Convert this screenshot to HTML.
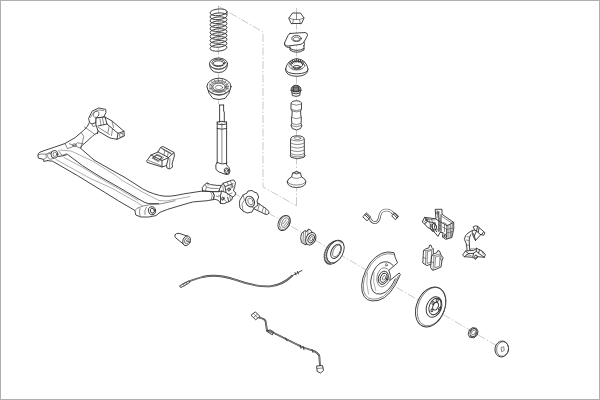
<!DOCTYPE html>
<html><head><meta charset="utf-8"><title>Rear axle exploded view</title>
<style>
html,body{margin:0;padding:0;background:#fff;}
body{width:600px;height:400px;overflow:hidden;font-family:"Liberation Sans",sans-serif;}
#frame{position:absolute;left:0;top:0;width:598px;height:398px;border:1px solid #b0b0b0;}
svg{position:absolute;left:0;top:0;display:block}
.l{fill:none;stroke:#303030;stroke-width:.9;stroke-linecap:round;stroke-linejoin:round}
.t{fill:none;stroke:#4c4c4c;stroke-width:.65;stroke-linecap:round;stroke-linejoin:round}
.c2{fill:none;stroke:#383838;stroke-width:1.8;stroke-linecap:butt;stroke-linejoin:round}
.c3{fill:none;stroke:#fff;stroke-width:.4;stroke-linecap:butt;stroke-linejoin:round}
.c4{fill:none;stroke:#444;stroke-width:2.6;stroke-linecap:butt;stroke-linejoin:round}
.c5{fill:none;stroke:#fff;stroke-width:1.3;stroke-linecap:butt;stroke-linejoin:round}
.wf{fill:#fff}
.u{fill:none;stroke:#787878;stroke-width:.6;stroke-linecap:round;stroke-linejoin:round}
.s{fill:none;stroke:#3c3c3c;stroke-width:.95}
.d{fill:none;stroke:#a4a4a4;stroke-width:.6;stroke-dasharray:8 2 1.5 2}
</style></head><body>
<div id="frame"></div>
<svg width="600" height="400" viewBox="0 0 600 400">
<!-- guide lines -->
<path class="d" d="M218 6 L263 32 L263 187 L297 206"/>
<path class="d" d="M218.5 6 L218.5 104"/>
<path class="d" d="M296.5 8 L296.5 206"/>
<path class="d" d="M233 192.5 L505 350.5"/>
<!-- spring -->
<ellipse class="s" cx="218.5" cy="12.3" rx="8.5" ry="3.3" transform="rotate(-5 218.5 12.3)"/>
<ellipse class="s" cx="218.5" cy="16.25" rx="8.5" ry="3.3" transform="rotate(-5 218.5 16.25)"/>
<ellipse class="s" cx="218.5" cy="20.2" rx="8.5" ry="3.3" transform="rotate(-5 218.5 20.2)"/>
<ellipse class="s" cx="218.5" cy="24.15" rx="8.5" ry="3.3" transform="rotate(-5 218.5 24.15)"/>
<ellipse class="s" cx="218.5" cy="28.1" rx="8.5" ry="3.3" transform="rotate(-5 218.5 28.1)"/>
<ellipse class="s" cx="218.5" cy="32.05" rx="8.5" ry="3.3" transform="rotate(-5 218.5 32.05)"/>
<ellipse class="s" cx="218.5" cy="36.0" rx="8.5" ry="3.3" transform="rotate(-5 218.5 36.0)"/>
<ellipse class="s" cx="218.5" cy="39.95" rx="8.5" ry="3.3" transform="rotate(-5 218.5 39.95)"/>
<ellipse class="s" cx="218.5" cy="43.9" rx="8.5" ry="3.3" transform="rotate(-5 218.5 43.9)"/>
<ellipse class="s" cx="218.5" cy="47.85" rx="8.5" ry="3.3" transform="rotate(-5 218.5 47.85)"/>
<path class="l" d="M227.0 12.0 L227.0 14.5"/>
<!-- ring1 -->
<path class="l wf" d="M209.5 63.5 Q209.5 72.5 218.5 72.5 Q227.5 72.5 227.5 63.5"/>
<ellipse class="l wf" cx="218.5" cy="63.5" rx="9" ry="5.5"/>
<ellipse class="l" cx="218.5" cy="62.8" rx="6.6" ry="3.6"/>
<ellipse class="l" cx="218.5" cy="63.3" rx="5" ry="2.5"/>
<path class="t" d="M210.5 66.5 Q218.5 73 226.5 66.5"/>
<!-- ring2 -->
<path class="l wf" d="M207 86.5 Q208 94 213 98.5 Q219 100.5 225 98.5 Q230 94 231 86.5"/>
<ellipse class="l wf" cx="219" cy="86.5" rx="12" ry="8.3"/>
<ellipse class="t" cx="219" cy="86.5" rx="9.3" ry="6"/>
<ellipse class="l" cx="219" cy="87" rx="6.3" ry="4"/>
<ellipse class="t" cx="219" cy="87.5" rx="3.6" ry="2.2"/>
<path class="t" d="M208.5 90.5 Q219 101 229.5 90.5"/>
<path class="t" d="M209.5 84 L212 85.5 M211 81.5 L213.5 83.3 M214 79.8 L215.8 82 M218 79 L218.5 81.5 M222.5 79.3 L222 81.8 M226 81 L224.5 83 M228.3 83.5 L226 85 M209.3 89 L212 88.5 M228.8 89 L226 88.5 M212 92.5 L214 91 M226 92.5 L224 91"/>
<ellipse class="t" cx="219" cy="86.8" rx="7.8" ry="5"/>
<!-- shock -->
<path class="l" d="M219.6 105 L219.6 122 M223.6 105 L223.6 111 L224.3 112 L224.3 122 M219.6 105 L223.6 105"/>
<path class="l" d="M217.2 122 L217.2 163 M226.6 122 L226.6 163 M217.2 122 Q222 120.5 226.6 122 M217.2 128.5 Q222 130 226.6 128.5 M217.2 124 Q222 125.5 226.6 124"/>
<path class="t" d="M221.9 123 L221.9 163"/>
<path class="l" d="M217.2 162.5 L215.8 165 L216 169.5 L219 172 L226 174.5 L229 174 L230 171 L229 167.5 L226.6 165 L226.6 162.5 M217.2 162.5 Q222 165 226.6 163.5"/>
<ellipse class="l" cx="226.6" cy="170.8" rx="2.3" ry="2.9" transform="rotate(-15 226.6 170.8)"/>
<ellipse class="t" cx="226.6" cy="170.8" rx="1.1" ry="1.5" transform="rotate(-15 226.6 170.8)"/>
<!-- nut -->
<path class="l wf" d="M289 18 L292.5 13 L300.5 13 L304 18 L301.5 23.5 L291.5 23.5 Z"/>
<path class="t" d="M289 18 L293.5 19.5 L299.5 19.5 L304 18 M293.5 19.5 L292.5 24 M299.5 19.5 L300.5 24 M296.5 13.5 L296.5 19.5"/>
<!-- mount plate -->
<path class="l wf" d="M290 33.5 L305 32.5 Q308 33 307.5 35.5 L304 42 Q303 44 300 44.5 L288 46 Q284 46 284.5 43 L288 35.5 Q289 33.8 290 33.5 Z"/>
<path class="l" d="M284.5 43 L285 45.5 Q286 47.5 288.5 47.5 L290 47.3 M304 42 L304.5 44.5 L303.5 46"/>
<ellipse class="l" cx="296.5" cy="38.5" rx="4.6" ry="2.9"/>
<ellipse class="t" cx="296.5" cy="39" rx="3.2" ry="1.9"/>
<path class="l" d="M290 47 L290 50 Q296.5 54.5 304 50 L304 45.5 M290 48.5 Q296.5 52.5 304 48.5"/>
<!-- dome -->
<path class="l wf" d="M285.6 69 Q285 76 296.8 76.3 Q308.5 76 308 69"/>
<path class="l wf" d="M285.6 69 Q287 60 296.8 58.5 Q306.5 60 308 69 Q308 73.5 296.8 73.8 Q285.6 73.5 285.6 69 Z"/>
<ellipse class="t" cx="296.8" cy="65.5" rx="8" ry="4.6"/>
<ellipse class="l" cx="296.8" cy="64.5" rx="6" ry="3.4"/>
<ellipse class="l" cx="296.8" cy="67.2" rx="3.6" ry="1.7"/>
<path class="l" d="M289 62.5 L291.5 65 M290.5 61.3 L293 64 M292.3 60.3 L294.3 63 M294.3 59.7 L295.8 62.3 M296.5 59.3 L297 62 M298.6 59.5 L298.5 62.2 M300.6 60 L300 62.6 M302.5 60.8 L301.5 63.3 M304.2 62 L302.8 64.3"/>
<path class="t" d="M291 68 Q296.8 71.5 302.6 68"/>
<!-- small cap -->
<path class="l wf" d="M291 90.5 Q291 85.5 296 85.2 Q301 85.5 301 90.5 L300.2 92 L299.8 95.5 Q296 97.2 292.3 95.5 L291.8 92 Z"/>
<path class="l" d="M291 90.5 Q296 93 301 90.5 M293.5 86.5 L293.5 91.8 M296 85.5 L296 92 M298.5 86.5 L298.5 91.8 M292.3 93 Q296 95 299.8 93 M292.2 87.5 L292.2 91.2 M294.8 85.8 L294.8 92 M297.2 85.8 L297.2 92 M299.8 87.5 L299.8 91.2"/>
<ellipse class="t" cx="296" cy="86.6" rx="2.6" ry="1.1"/>
<!-- bump stop -->
<path class="l wf" d="M291 104 Q291 100.8 296.3 100.8 Q301.6 100.8 301.6 104 L301.4 109.5 L300.6 111 L300.8 116 L301.4 117.5 L301 123.5 L301.8 125.5 L300.6 128.5 Q296.5 131.5 292.4 128.5 L291 125.5 L291.8 123.5 L291.4 117.5 L292 116 L292.2 111 L291.2 109.5 Z"/>
<path class="t" d="M291 104 Q296.3 106.5 301.6 104 M291.2 109.5 Q296.3 112 301.4 109.5 M292.2 111 Q296.3 113 300.6 111 M291.4 117.5 Q296.3 120 301.4 117.5 M291.8 123.5 Q296.3 126 301 123.5 M291 125.5 Q296.3 128.3 301.8 125.5"/>
<!-- boot -->
<path class="l wf" d="M290.5 139.5 Q290.5 135.8 297.3 135.8 Q304.3 135.8 304.3 139.5 L304.3 154 L305 155.5 L304 157.3 Q297.3 160.3 291 157.3 L290.3 155.5 L290.5 154 Z"/>
<path class="t" d="M290.5 139.5 Q297.4 142.7 304.3 139.5"/>
<path class="t" d="M290.5 143 Q297.4 146.2 304.3 143"/>
<path class="t" d="M290.5 146.5 Q297.4 149.7 304.3 146.5"/>
<path class="t" d="M290.5 150 Q297.4 153.2 304.3 150"/>
<path class="t" d="M290.5 153.5 Q297.4 156.7 304.3 153.5"/>
<ellipse class="t" cx="297.4" cy="138.2" rx="3.4" ry="1.4"/>
<path class="t" d="M290.3 155.5 Q297.4 158.5 305 155.5"/>
<!-- cup -->
<path class="l wf" d="M287.3 181.5 Q287 187.3 296.6 187.5 Q306 187.3 305.8 181.5 Q305.5 178.5 301.5 177 L300.5 173 Q296.6 170.3 292.6 173 L291.6 177 Q287.6 178.5 287.3 181.5 Z"/>
<path class="t" d="M292.6 173 Q296.6 175.3 300.5 173 M291.6 177 Q296.6 180 301.5 177 M287.3 181.5 Q289 185 296.6 185 Q304 185 305.8 181.5"/>
<ellipse class="t" cx="296.6" cy="172.6" rx="2.2" ry="1"/>
<!-- axle beam -->
<path class="l" d="M89.5 122.5 Q88 126.5 83.7 130.3 L81.2 132.5 L75 137.7 L65 143.5 L54.4 147.2 L45 150.3 L40 152.2 Q38 153.2 38 155 L38.2 158 L43.6 159.4 L43.8 161.4 L47.5 160.6"/>
<path class="l" d="M97.5 132.7 Q94 134.5 92.5 136.2 L87 141.2 L82 145.6 L80.6 148.3 L94 160 L115 172 L125 177.5 L142.5 188.7 Q148 192 153.7 193.7 Q160 196 165 196.2 Q170 196.4 175 195.6 L185 193.7 L202.5 191"/>
<path class="t" d="M81.2 132.5 L83.7 136.2 Q83 142 80.6 147.5"/>
<path class="t" d="M84.5 127 L95 134.5"/>
<path class="u" d="M60 150 L71 151 L92.5 161 L115 175 L122.5 180.6 L142.5 192 L158.7 200.4 L166 201 L175 199.4 L190 196.5"/>
<path class="l" d="M58 156.5 L63 155.8 L67.5 154.4 L82.5 165.7 L100 176.7 L118.7 187.3 L141 200.4 Q145 203 148.7 203.6 L158.7 203.7"/>
<path class="u" d="M64 157.5 L82.5 167.3 L100 178.2 L118.7 188.8 L138 200.3"/>
<path class="u" d="M56 159.5 L90 178.3 L112.5 188.5 L137.5 202.7 L142.5 206"/>
<path class="l" d="M47.5 160.6 L52.5 161.2 L77.5 175.6 L105 192.5 L118.7 201 L135 210.5 L135.3 212.5 L135.8 215 L141 217 L148.7 217 L156 215.6 L160 212.3 L167.5 209.4 L180 205.6 L192.5 202 L200 201.3 L206.3 200.8 L213.4 199.6"/>
<path class="t" d="M135 210.5 L137 208.3 L143.7 205.8 L151 204.6 L161 203.8 L175 200.8"/>
<ellipse class="l" cx="152" cy="210.7" rx="3.5" ry="4" transform="rotate(-15 152 210.7)"/>
<ellipse class="l" cx="152.4" cy="210.7" rx="2" ry="2.5" transform="rotate(-15 152.4 210.7)"/>
<path class="t" d="M146.5 207 Q144 210 145 214.5 M140 208.5 Q138.5 211.5 140 215.5"/>
<ellipse class="l" cx="54.4" cy="154.3" rx="3.4" ry="3.8"/>
<ellipse class="t" cx="54.9" cy="154.3" rx="1.8" ry="2.2"/>
<path class="t" d="M51 153.5 Q48.5 152.5 47.5 155 Q47.3 158.3 50 159.3 L54 158.3"/>
<path class="t" d="M43.6 159.4 L46.3 157.6 L46 154.2 M38 155 L41 154 L46 154.2 L50.7 152"/>
<path class="t" d="M65 143.5 L67.5 148.7 L72 147 L77.5 142.8 L83 143.7 M69.4 143.7 L80.6 148.3"/>
<ellipse class="t" cx="74.4" cy="145.2" rx="1.9" ry="1.4"/>
<path class="t" d="M58.7 150.7 L62 155.5 L66.5 153.8"/>
<!-- arm bushing -->
<path class="l wf" d="M88.7 118.7 L89.5 122.5 L92 124 L96 122.5 L96.3 118 L103.7 117 L106 112.5 L105.6 109.4 L98.7 108 L92.5 111 Z"/>
<path class="t" d="M90.5 117.5 L93.5 112.5 L98.7 110 L103.5 110.5 M92 124 L92.8 126.5 L97 125.5 L96 122.5"/>
<ellipse class="t" cx="96.2" cy="114.3" rx="2.6" ry="3.4" transform="rotate(25 96.2 114.3)"/>
<path class="l wf" d="M96.3 118 L105 117 L112 121 L124 131.3 L124.3 136 L117 139.3 L110 138 L98 131 L96 125 Z"/>
<path class="l" d="M105 117 L107 124 L118 133.3 L124 131.3 M107 124 L98 126 M118 133.3 L117 139.3"/>
<path class="t" d="M112 121 L113.5 127.5 M119.5 134.5 L120 137.5 L123 136.2 L122.8 133.5 Z M100 119 L101 125 M102.5 118.3 L103.8 124.6 M109 126.5 L108 132.5 M112.5 129 L111.5 135.5 M98.5 127.5 L109.5 134.5"/>
<path class="l" d="M97.5 133.7 L98 131"/>
<!-- bracket -->
<path class="l wf" d="M147 160.5 L151 155 L158 152 L160.5 147.5 L163 146.5 L174 152.5 L174.4 156 L172 164 L172.6 167 L169.5 169 L167 168 L166.5 165.5 L162 167 L147.5 162.5 Z"/>
<path class="l" d="M158 152 L168.5 157.5 L174 152.5 M168.5 157.5 L166.5 165.5 M151 155 L162 160.5 L162 167 M162 160.5 L168 158"/>
<path class="t" d="M160.5 147.5 L170.5 153 M163 149.5 L172 154.5"/>
<path class="l" d="M153.5 157.5 L157 155 L162 157.5 L158.5 160.3 Z"/>
<path class="t" d="M152.3 157.8 L157 154 L163.6 157.5 L158.7 161.5 Z M161.8 148.5 L171.3 153.7 M164.5 151.5 L164 155 M168 153.5 L167.5 157 M170 158.5 L169.3 168.5 M148.5 160.5 L161 165.5"/>
<!-- right arm end bracket -->
<path class="l wf" d="M202.6 190.8 L202.2 187.5 L204.7 184.6 L207.2 182.9 L210.5 184.6 L217.2 185.4 L221.7 185.4 L219.7 188.7 L218.8 191.7 L212.6 191.7 L202.6 191 Z"/>
<path class="t" d="M204.7 184.6 L206.5 187 L211 188.3 L218 188.5 M207.2 182.9 L208.2 185.2 M206.5 187 L205.5 190.8"/>
<path class="l" d="M202.5 191 L212.6 191.7 Q215.9 195 213.4 199.6"/>
<path class="t" d="M210.6 191.7 Q213.6 195.3 211.4 199.9"/>
<path class="l wf" d="M221.7 185.4 L223 183.3 L231.3 180.4 L233.8 180 L235.5 182.5 L234.7 186.7 L233.4 190.8 L235.9 192.9 L234.7 195.8 L232.6 197 L231.7 200 L228.8 201.7 L223.8 203.7 L220.5 203.3 L218.4 200.4 L215 199.2 L213.4 199.6 Q215.9 195 212.6 191.7 L218.8 191.7 L219.7 188.7 Z"/>
<path class="l" d="M223 183.3 L225 186.5 L233 183.8 M225 186.5 L226 192.5 L232.6 197 M226 192.5 L221.5 191 L218.8 191.7 M221.5 191 L220.5 196 L220.5 203.3 M228.8 201.7 L227.6 197.3"/>
<path class="t" d="M227 182 L228.5 185.2 M230.3 180.8 L231.7 184 M233.4 187 L226.6 189.6 M232 193 L227.2 195 M229.6 195.5 L230.6 199.8 M222 200 L224.5 197 M222.8 186.2 L223.6 191.7 M218.4 195.8 L220.5 196 M224 199.5 L226.5 201.5 M216.3 196 L218.4 197"/>
<ellipse class="l" cx="229" cy="189.5" rx="1.2" ry="1.6"/>
<ellipse class="l" cx="222.8" cy="198.6" rx="1.2" ry="1.5"/>
<ellipse class="t" cx="231.8" cy="186" rx="0.8" ry="1"/>
<!-- stub axle -->
<path class="l wf" d="M253 199.6 L266 208.6 L268.7 211.3 L268.9 213.2 L267.2 214.5 L265 214.1 L251 207.4"/>
<path class="l wf" d="M240 200 L243 195 L247 193 L248 191 L252 190.5 L254 192 L257 193 L258.7 197 L257 201 L258 205 L254 208 L252 212 L247 213 L243 211 L240 208 L239.5 204 Z"/>
<ellipse class="l" cx="250" cy="201.5" rx="4.2" ry="5.6" transform="rotate(-25 250 201.5)"/>
<ellipse class="t" cx="250.5" cy="201.5" rx="2.4" ry="3.6" transform="rotate(-25 250.5 201.5)"/>
<path class="t" d="M259.5 204.2 L257.8 210 M263.5 207 L262 212.3 M266 208.6 L265 214.1"/>
<path class="t" d="M243 195 L244.5 200 L242 204 L243 211 M254 208 L251 206.5"/>
<!-- bolt -->
<path class="l wf" d="M175.3 234.5 Q174.2 236 175.3 237.5 L184.5 245 L188.5 236.5 L179 233.3 Q176.5 233 175.3 234.5 Z"/>
<ellipse class="l wf" cx="186.6" cy="240.8" rx="3.7" ry="5" transform="rotate(20 186.6 240.8)"/>
<ellipse class="t" cx="186.8" cy="240.8" rx="2.2" ry="3.2" transform="rotate(20 186.8 240.8)"/>
<path class="t" d="M185.5 239.5 L188 242 M188 239.3 L185.7 242.3"/>
<!-- cable 1 -->
<path class="c2" d="M183 284.3 Q190 280.5 202.5 277 Q217.5 273.5 235 279.7 Q255 287 270 286.3 Q282 285.5 292.5 275.5"/>
<path class="c3" d="M183 284.3 Q190 280.5 202.5 277 Q217.5 273.5 235 279.7 Q255 287 270 286.3 Q282 285.5 292.5 275.5"/>
<path class="l wf" d="M179.8 286.2 L180.6 287.6 L184.3 285.8 L189.8 282.3 L189 280.8 L183.5 283.8 Z"/>
<path class="t" d="M183.5 283.8 L184.3 285.8 M186.3 282.3 L187.1 284"/>
<path class="l" d="M292.5 275.5 L297 273 L302 270.5 M295 272.5 L296 275 M297.5 271.5 L298.5 274"/>
<!-- cable 2 (abs sensor) -->
<path class="l wf" d="M251.3 315 L255.3 311.8 L259.8 316.3 L256 319.5 Z"/>
<path class="t" d="M253.3 313.4 L258 318 M254.3 316.8 L257.3 314.3"/>
<path class="c2" d="M259 317.6 Q264.5 318.6 265.6 321.3 L267 330.5 L274 333 L288 340 L302 347 L314 351 Q318.5 353.5 319.3 356 L320 366"/>
<path class="c3" d="M259 317.6 Q264.5 318.6 265.6 321.3 L267 330.5 L274 333 L288 340 L302 347 L314 351 Q318.5 353.5 319.3 356 L320 366"/>
<path class="l" d="M267 331 L270 329.8 L273.5 331.8 L272.5 334.5 Z M285.5 338 L287 340.8 M300 345 L301 348.5 M303 346.3 L304 349.8 M312 349.5 L313 352.5"/>
<path class="l wf" d="M317 366 L322.5 365.5 L323.5 370.5 L320.5 373 L317.5 371.5 Z"/>
<path class="t" d="M317.3 368.5 L323 368"/>
<!-- seal ring -->
<ellipse class="l wf" cx="284" cy="223" rx="5.5" ry="8" transform="rotate(27 284 223)"/>
<ellipse class="t" cx="285" cy="222.6" rx="4.9" ry="7.4" transform="rotate(27 285 222.6)"/>
<ellipse class="t" cx="285.2" cy="222.6" rx="3.1" ry="5.2" transform="rotate(27 285.2 222.6)"/>
<path class="t" d="M283 223.8 L286.3 219.8 M284 225.8 L287.3 221.8"/>
<!-- bearing -->
<path class="l wf" d="M302 233 L305 230.5 L307 231.5 L308.5 229 L311 230.5 L312 232 L306 245 L301.5 242.5 L300.7 238 Z"/>
<path class="t" d="M303.5 232 L303 242.5 M305.5 231 L305 244 M308 230 L307.5 240"/>
<ellipse class="l wf" cx="310.8" cy="238.8" rx="4.7" ry="6.6" transform="rotate(27 310.8 238.8)"/>
<ellipse class="l" cx="311.2" cy="238.8" rx="2.8" ry="4.3" transform="rotate(27 311.2 238.8)"/>
<ellipse class="t" cx="311.4" cy="238.8" rx="1.4" ry="2.4" transform="rotate(27 311.4 238.8)"/>
<!-- abs ring -->
<path class="l wf" d="M340.8 256.37 L339.9 256.97 L339.8 258.09 L338.89 258.53 L338.65 259.68 L337.75 259.94 L337.37 261.09 L336.5 261.18 L335.99 262.3 L335.17 262.2 L334.55 263.27 L333.79 262.99 L333.08 263.97 L332.41 263.52 L331.62 264.39 L331.05 263.78 L330.2 264.53 L329.75 263.77 L328.86 264.37 L328.54 263.48 L327.63 263.92 L327.45 262.93 L326.55 263.19 L326.51 262.12 L325.63 262.2 L325.73 261.07 L324.91 260.97 L325.15 259.82 L324.39 259.54 L324.76 258.39 L324.09 257.94 L324.59 256.81 L324.03 256.2 L324.64 255.14 L324.19 254.38 L324.9 253.4 L324.58 252.51 L325.38 251.64 L325.19 250.65 L326.04 249.9 L326.0 248.83 L326.9 248.23 L327.0 247.11 L327.91 246.67 L328.15 245.52 L329.05 245.26 L329.43 244.11 L330.3 244.02 L330.81 242.9 L331.63 243.0 L332.25 241.93 L333.01 242.21 L333.72 241.23 L334.39 241.68 L335.18 240.81 L335.75 241.42 L336.6 240.67 L337.05 241.43 L337.94 240.83 L338.26 241.72 L339.17 241.28 L339.35 242.27 L340.25 242.01 L340.29 243.08 L341.17 243.0 L341.07 244.13 L341.89 244.23 L341.65 245.38 L342.41 245.66 L342.04 246.81 L342.71 247.26 L342.21 248.39 L342.77 249.0 L342.16 250.06 L342.61 250.82 L341.9 251.8 L342.22 252.69 L341.42 253.56 L341.61 254.55 L340.76 255.3 Z"/>
<ellipse class="l wf" cx="335.4" cy="251.6" rx="7.7" ry="12" transform="rotate(27 335.4 251.6)"/>
<path class="t" d="M329.74 264.51 L331.81 262.93 M328.51 264.27 L330.66 262.72 M327.38 263.78 L329.62 262.26 M326.38 263.04 L328.69 261.58 M325.54 262.07 L327.92 260.67 M324.87 260.90 L327.30 259.57 M324.39 259.54 L326.86 258.30 M324.10 258.03 L326.61 256.88 M324.02 256.40 L326.54 255.34 M324.15 254.69 L326.67 253.73 M324.48 252.93 L326.99 252.07 M325.00 251.16 L327.49 250.41 M325.71 249.43 L328.16 248.77 M326.59 247.76 L328.99 247.20 M327.62 246.21 L329.96 245.72 M328.77 244.79 L331.05 244.38 M330.03 243.54 L332.23 243.20 M331.36 242.49 L333.47 242.20 M332.74 241.67 L334.76 241.42 M334.13 241.08 L336.06 240.85 M335.50 240.75 L337.34 240.53 M336.83 240.68 L338.57 240.46 M338.08 240.87 L339.74 240.63 M339.23 241.32 L340.81 241.04 M340.25 242.01 L341.75 241.69 M341.12 242.94 L342.56 242.55"/>
<ellipse class="l" cx="336" cy="251.3" rx="4.5" ry="7.7" transform="rotate(27 336 251.3)"/>
<ellipse class="t" cx="336.7" cy="251" rx="3.3" ry="6.3" transform="rotate(27 336.7 251)"/>
<!-- brake shield -->
<path class="l wf" d="M393.7 252.6 Q381 249 370 263 Q359.5 279 362.2 292 Q365 303 378 300.5 Q391 297.5 400.3 274.5 L399.2 273 L389.8 280.5 Q391.5 275.5 388.8 270.3 L397.5 262.8 L395.3 257.6 Z"/>
<path class="t" d="M393.3 254.3 Q381.5 251 371.3 264 Q361.3 279 363.8 291.3 Q366.5 301 377.7 298.8 Q389.5 296 398.3 276"/>
<path class="l" d="M393 265.3 Q387.5 259.3 380 263.3 Q371.7 269.5 370.6 282 Q371 295.5 381 294 Q389.5 292 395.3 278.8"/>
<path class="t" d="M388.8 270.3 Q385.5 266.5 381.5 268.5 Q376.8 272 376.8 280 Q377.8 287.5 383 286.8 Q387 285.5 389.8 280.5"/>
<ellipse class="l" cx="383.3" cy="277.8" rx="4.8" ry="6.8" transform="rotate(20 383.3 277.8)"/>
<ellipse class="l" cx="383.7" cy="277.8" rx="3.2" ry="4.8" transform="rotate(20 383.7 277.8)"/>
<ellipse class="t" cx="384.1" cy="277.8" rx="1.5" ry="2.4" transform="rotate(20 384.1 277.8)"/>
<ellipse class="t" cx="386.3" cy="265" rx="1" ry="1.3" transform="rotate(20 386.3 265)"/>
<path class="u" d="M367.5 273 Q365.5 284 368.5 294 M374 272 Q372.3 282 375.8 290.5"/>
<!-- brake disc -->
<ellipse class="l wf" cx="430.6" cy="307" rx="14" ry="20.8" transform="rotate(22 430.6 307)"/>
<ellipse class="t" cx="431.6" cy="306.6" rx="13.2" ry="20" transform="rotate(22 431.6 306.6)"/>
<ellipse class="l" cx="434" cy="307" rx="7.4" ry="10.6" transform="rotate(22 434 307)"/>
<ellipse class="l" cx="435" cy="306.5" rx="5.6" ry="8.6" transform="rotate(22 435 306.5)"/>
<ellipse class="l" cx="435.6" cy="306.2" rx="2.6" ry="4" transform="rotate(22 435.6 306.2)"/>
<ellipse class="l" cx="437.2" cy="300.5" rx="1" ry="1.4" transform="rotate(22 437.2 300.5)"/>
<ellipse class="l" cx="432" cy="310.3" rx="1" ry="1.4" transform="rotate(22 432 310.3)"/>
<ellipse class="l" cx="439.6" cy="309" rx="1" ry="1.4" transform="rotate(22 439.6 309)"/>
<ellipse class="l" cx="433" cy="303" rx="1" ry="1.4" transform="rotate(22 433 303)"/>
<!-- hub nut -->
<path class="l wf" d="M468.3 334 L469.3 330 L472.5 327.6 L476.3 328.3 L478 331 L477.3 335 L474 337.8 L470 337.2 Z"/>
<ellipse class="l" cx="473.4" cy="332.6" rx="3.2" ry="4.2" transform="rotate(25 473.4 332.6)"/>
<ellipse class="t" cx="473.6" cy="332.5" rx="1.8" ry="2.6" transform="rotate(25 473.6 332.5)"/>
<path class="t" d="M469.3 330 L471 331 M476.3 328.3 L475.8 329.6 M470 337.2 L471.5 336"/>
<!-- hub cap -->
<ellipse class="l wf" cx="501.8" cy="349" rx="6.8" ry="8" transform="rotate(10 501.8 349)"/>
<ellipse class="t" cx="502.6" cy="349" rx="6" ry="7.3" transform="rotate(10 502.6 349)"/>
<path class="t" d="M501.5 347.5 L503.8 346.8 L504.2 350.5 L502 351.5 Z"/>
<!-- brake hose -->
<path class="l wf" d="M363 216.5 L366.5 213 L370.8 217 L367.3 220.5 Z"/>
<path class="l" d="M364.7 214.8 L369 218.8 M365.8 213.7 L370 217.8"/>
<path class="c4" d="M370 218.8 Q372.5 223.3 376 222.5 Q379 221.5 380 215 Q381.5 209.8 387 210 Q391.5 210.5 393.5 214"/>
<path class="c5" d="M370 218.8 Q372.5 223.3 376 222.5 Q379 221.5 380 215 Q381.5 209.8 387 210 Q391.5 210.5 393.5 214"/>
<path class="l wf" d="M392 215.5 L395 212.8 L398.5 216.3 L395.7 219.5 Z"/>
<path class="l" d="M393.5 214.2 L397 217.9 M394.6 213.2 L398 216.8"/>
<!-- caliper -->
<path class="l wf" d="M435.6 209.3 L442 209.3 L442 214.3 L453.7 222.4 L453.8 228 L452.4 235.5 L451.8 237.5 L445.8 239.3 L442.5 237 L443 232.8 L440.2 232.3 L437.9 236.4 L435.1 232.8 L431 229 L427.3 227.2 L424.5 223.8 L422.2 222 L424.5 217.3 L435.6 218.8 Z"/>
<path class="l" d="M438.8 211.5 L438.8 231.5 M441 214.5 L441 232.3 M435.6 218.8 L438.8 221 L447 225.7 L453.7 222.4 M447 225.7 L446.8 238.8 M424.5 217.3 L427.5 221.5 L424.5 223.8 M427.5 221.5 L435 223"/>
<path class="l" d="M431 224 Q428.5 228 432.5 231.5 M435 223 Q433 227.5 436.5 231.8 M432.8 223.8 Q430.6 228 434.5 232"/>
<ellipse class="l" cx="434.3" cy="226.8" rx="2.2" ry="3.4" transform="rotate(-20 434.3 226.8)"/>
<path class="t" d="M436.8 211 L437.7 211 L437.7 217.5 M442 216.5 L452.5 223.5 M449 225 L448.8 238.2 M450.8 224 L450.4 237.8 M452.5 224 L451.4 237.3 M444.5 224.3 L444.5 231.5 M426 218.6 L434.5 220 M429.5 222.3 L430.5 226 M438.8 225 L441 226 M438.8 228 L441 229 M442.5 237 L446 234.3 M423.8 221 L426 223 M442.5 227 L446.5 229 L446.5 233.5 M443.5 222.5 L447 224.5 M443 232.8 L446 235 M428.5 219 L429.8 221.8 M431.5 219.4 L432.6 222.3 M436.8 229.5 L438.8 230.5 M439.8 218 L439.8 231 M447 229.5 L453 228 M447 233 L452.6 231.5"/>
<ellipse class="l" cx="445.3" cy="236" rx="1.2" ry="1.4"/>
<ellipse class="t" cx="437.3" cy="213" rx="0.9" ry="1.1"/>
<ellipse class="l" cx="426.3" cy="220" rx="0.9" ry="0.9"/>
<!-- pads -->
<path class="l wf" d="M423.8 250.3 L425.5 249 L429 247.8 L429.4 245.3 L431 245.2 L431.7 247.3 L433.2 248.8 L433.4 255 L432.4 263.5 L427 265.6 L422.8 263 L423.2 256 Z"/>
<path class="t" d="M426 250.8 L425.4 264.6 M423.8 250.3 L426 250.8 L433.2 248.8 M423.2 257.5 L425.7 258.3 M427.5 252 L427 263.5 L431 262 L431.6 250.8 Z"/>
<path class="l wf" d="M432 255.3 L433.5 254 L437 252.6 L437.6 250.8 L439.3 250.8 L440.2 252.6 L441.2 255.6 L443.2 257.5 L442 260.3 L441 267 L436.7 269 L432.5 270.3 L430.6 267.5 L431.3 260 Z"/>
<path class="t" d="M434 255.8 L433 269.8 M432 255.3 L434 255.8 L440.6 253.6 M431.2 262 L433.4 262.7 M441.2 255.6 L440.6 260 L442 260.3 M435.5 257.3 L434.8 267.8 L439.5 266.2 L440 256 Z"/>
<!-- carrier -->
<path class="l" d="M472.3 230.5 Q467 233 465.5 235.7 L464.4 239.4 L466.5 244.1 L467.1 250.6 M470.7 234.7 Q468.8 238 469.2 241 L469.7 250.4"/>
<path class="l wf" d="M473.4 226.8 L475.5 225.8 L477.6 226.3 L484.9 232.6 L483.9 235.2 L480.7 234.7 L475.5 240.5 L473.9 237.8 L472.3 233.6 L472.3 230.5 L474.4 230 Z"/>
<path class="l" d="M477.6 226.3 L476.5 231 L474.4 235.7 L475.5 240.5 M476.5 231 L480.7 234.7 M474.4 230 L476.5 231 M479 228 L478.3 232.3 M483.3 232.3 L481.5 234.7 M473.3 233.5 L474.4 235.7"/>
<path class="l wf" d="M462.9 254.6 L465.5 251 L470 250.6 L473.9 250.4 L476.5 248.3 L482.3 251 L485.4 254.6 L484.4 257.3 L477.6 256.7 L475.5 259.4 L472.8 257.3 L464.4 256.7 Z"/>
<path class="l" d="M465.5 251 L468.5 253.5 L473.5 253.3 L476.3 251.3 L480 254.3 L484.4 257.3 M473.5 253.3 L472.8 257.3 M468.5 253.5 L464.4 256.7 M476.5 248.3 L476.3 251.3 M479.5 249.8 L478.6 253"/>
<ellipse class="l" cx="476" cy="256.7" rx="1.4" ry="1.6"/>
<path class="t" d="M470 250.6 L470.8 248.8 L475 249 M481.5 251 L483.8 254.5 M466.5 254.6 L471 255.5 M466.3 240 L469 240.5 M466 245 L469.4 245.3 M467 236.5 L469.8 237.3"/>
</svg>
</body></html>
